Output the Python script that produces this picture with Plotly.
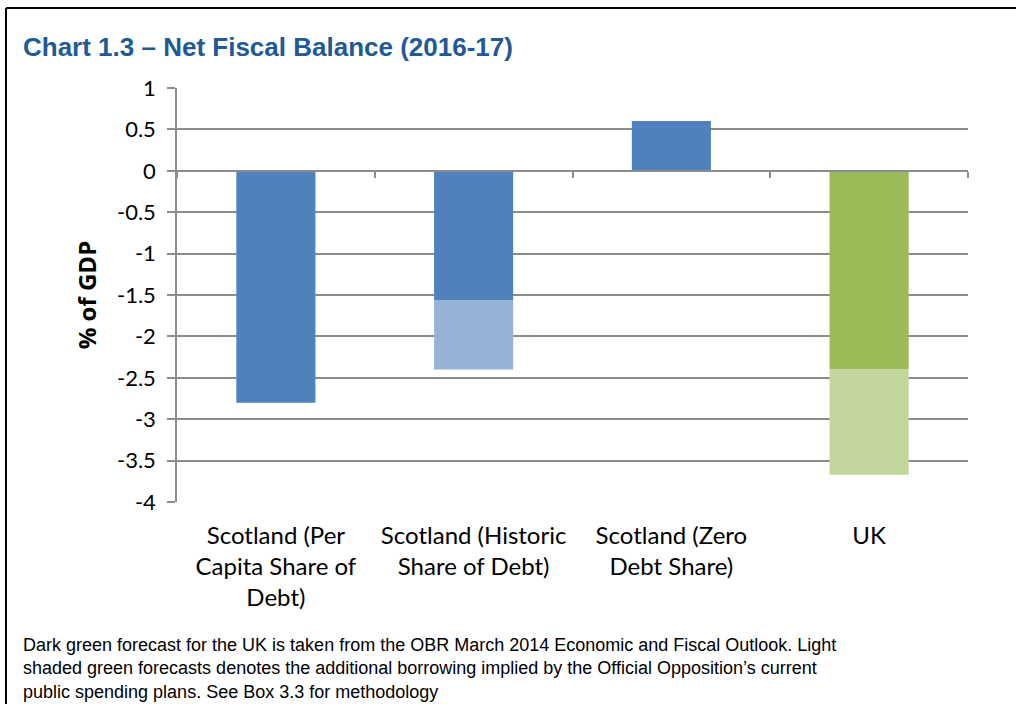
import plotly.graph_objects as go

# Net fiscal balance 2016-17, % of GDP
categories = [
    "Scotland (Per<br>Capita Share of<br>Debt)",
    "Scotland (Historic<br>Share of Debt)",
    "Scotland (Zero<br>Debt Share)",
    "UK",
]
base_balance = [-2.8, -1.56, 0.6, -2.4]      # central forecast
extra_borrowing = [0.0, -0.84, 0.0, -1.27]   # additional borrowing shown lighter
base_colors = ["#4F81BD", "#4F81BD", "#4F81BD", "#9BBB59"]
extra_colors = ["#95B3D7", "#95B3D7", "#95B3D7", "#C3D69B"]
y_ticks = [1, 0.5, 0, -0.5, -1, -1.5, -2, -2.5, -3, -3.5, -4]
y_range = [-4, 1]

W, H = 1016, 704
L, R, T, B = 177, 48, 88, 202
plot_w = W - L - R
plot_h = H - T - B


def px_x(px):
    return (px - L) / plot_w


def px_y(py):
    return (H - B - py) / plot_h


GRID = "#8C8C8C"
Y_TICK_FONT = dict(family="Lato, Carlito, Calibri, sans-serif", size=22, color="#000000")
X_TICK_FONT = dict(family="Lato, Carlito, Calibri, sans-serif", size=24, color="#000000")

fig = go.Figure()
fig.add_trace(go.Bar(
    x=categories, y=base_balance, marker=dict(color=base_colors, line=dict(width=0)),
    width=0.4, showlegend=False, hoverinfo="x+y",
))
fig.add_trace(go.Bar(
    x=categories, y=extra_borrowing, marker=dict(color=extra_colors, line=dict(width=0)),
    width=0.4, showlegend=False, hoverinfo="x+y",
))
# carrier trace for the zero-level category axis
fig.add_trace(go.Scatter(
    x=categories, y=[0] * len(categories), xaxis="x2", mode="markers",
    marker=dict(opacity=0), showlegend=False, hoverinfo="skip",
))

zero_pos = (0 - y_range[0]) / (y_range[1] - y_range[0])

fig.update_layout(
    width=W, height=H,
    margin=dict(l=L, r=R, t=T, b=B, pad=0),
    paper_bgcolor="white", plot_bgcolor="white",
    barmode="relative",
    font=Y_TICK_FONT,
    xaxis=dict(
        type="category", categoryorder="array", categoryarray=categories,
        range=[-0.5, len(categories) - 0.5],
        showline=False, showgrid=False, zeroline=False, ticks="",
        tickfont=X_TICK_FONT, ticklabelstandoff=17,
    ),
    xaxis2=dict(
        type="category", categoryorder="array", categoryarray=categories,
        range=[-0.5, len(categories) - 0.5],
        overlaying="x", anchor="free", position=zero_pos, side="bottom",
        showline=True, linecolor=GRID, linewidth=1.5,
        ticks="outside", tickson="boundaries", ticklen=6, tickcolor=GRID, tickwidth=1.5,
        showticklabels=False, showgrid=False, zeroline=False,
    ),
    yaxis=dict(
        range=y_range, tickmode="array", tickvals=y_ticks,
        ticktext=[f"{v:g}" for v in y_ticks],
        showgrid=True, gridcolor=GRID, gridwidth=1.5,
        showline=True, linecolor=GRID, linewidth=1.5,
        ticks="outside", ticklen=8, tickcolor=GRID, tickwidth=1.5,
        zeroline=False, tickfont=Y_TICK_FONT, ticklabelstandoff=7,
        title=dict(text="<b>% of GDP</b>", font=dict(family="Open Sans, sans-serif", size=24, color="#000000"), standoff=14),
    ),
    shapes=[
        dict(type="line", xref="paper", yref="paper",
             x0=px_x(6), x1=px_x(W + 5), y0=px_y(8), y1=px_y(8),
             line=dict(color="#000000", width=2)),
        dict(type="line", xref="paper", yref="paper",
             x0=px_x(6), x1=px_x(6), y0=px_y(8), y1=px_y(H + 5),
             line=dict(color="#000000", width=2)),
    ],
    annotations=[
        dict(text="<b>Chart 1.3 \u2013 Net Fiscal Balance (2016-17)</b>",
             xref="paper", yref="paper", x=px_x(21), y=px_y(47),
             xanchor="left", yanchor="middle", showarrow=False,
             font=dict(family="Liberation Sans, Arial, sans-serif", size=26, color="#1F5A96")),
        dict(text=("Dark green forecast for the UK is taken from the OBR March 2014 Economic and Fiscal Outlook. Light<br>"
                   "shaded green forecasts denotes the additional borrowing implied by the Official Opposition\u2019s current<br>"
                   "public spending plans. See Box 3.3 for methodology"),
             xref="paper", yref="paper", x=px_x(21), y=px_y(633),
             xanchor="left", yanchor="top", align="left", showarrow=False,
             font=dict(family="Liberation Sans, Arial, sans-serif", size=18, color="#000000")),
    ],
)

fig.write_html("out.html")
